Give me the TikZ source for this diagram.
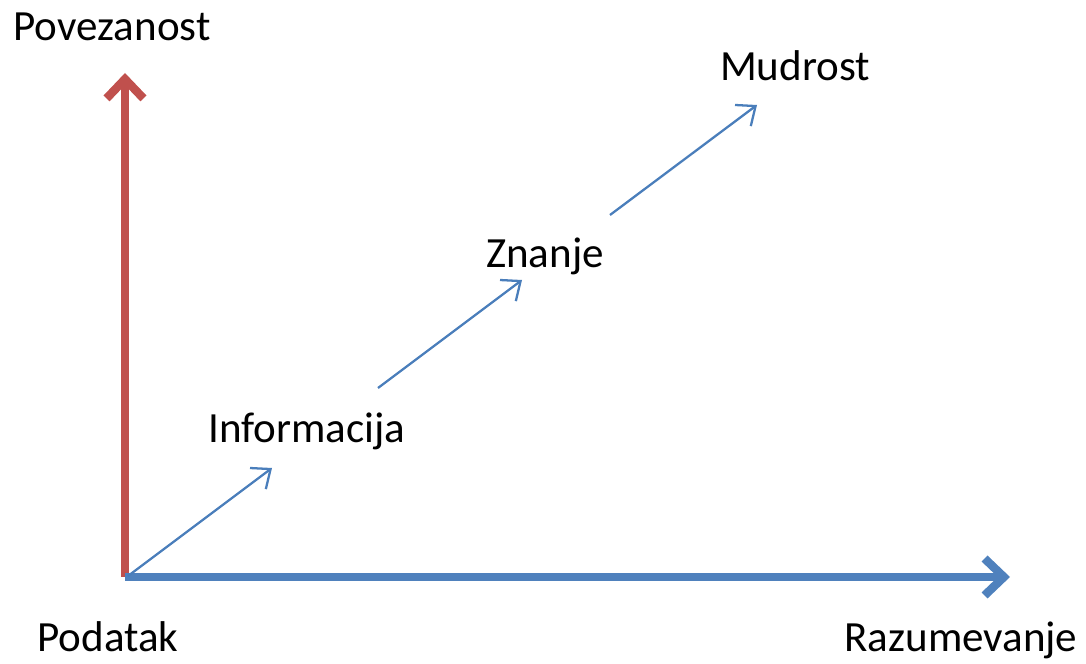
\documentclass[tikz,border=0pt]{standalone}
\usepackage{fontspec}
\setmainfont{Carlito}
\usetikzlibrary{arrows.meta}
\definecolor{axisred}{RGB}{192,80,77}
\definecolor{axisblue}{RGB}{79,129,189}
\definecolor{stepblue}{RGB}{74,126,187}

\begin{document}
\begin{tikzpicture}[x=0.2mm, y=-0.2mm,
    wordlabel/.style={font=\fontsize{24.5}{28}\selectfont, anchor=base, inner sep=0pt},
    axisarrow/.style={line width=4.8pt, -{Straight Barb[length=11pt, width=21pt]}},
    stepline/.style={stepblue, line width=1.3pt, -{Straight Barb[length=9pt, width=15pt]}}]
  \useasboundingbox (0,0) rectangle (1086,664);

  \node[wordlabel] (povezanost) at (112,41) {Povezanost};
  \node[wordlabel] (mudrost) at (795,81) {Mudrost};
  \node[wordlabel] (znanje) at (545,268) {Znanje};
  \node[wordlabel] (informacija) at (307,443) {Informacija};
  \node[wordlabel] (podatak) at (108,652) {Podatak};
  \node[wordlabel] (razumevanje) at (961,652) {Razumevanje};

  \coordinate (origin) at (125,577);
  \coordinate (ytop) at (125,73);
  \coordinate (xend) at (1010,577);

  \draw[axisarrow, axisred] (origin) -- (ytop);
  \draw[axisarrow, axisblue] (origin) -- (xend);

  \coordinate (a1) at (128,576);
  \coordinate (b1) at (272,468);
  \coordinate (a2) at (378,388);
  \coordinate (b2) at (522,280);
  \coordinate (a3) at (610,215);
  \coordinate (b3) at (757,105);

  \draw[stepline] (a1) -- (b1);
  \draw[stepline] (a2) -- (b2);
  \draw[stepline] (a3) -- (b3);
\end{tikzpicture}
\end{document}
